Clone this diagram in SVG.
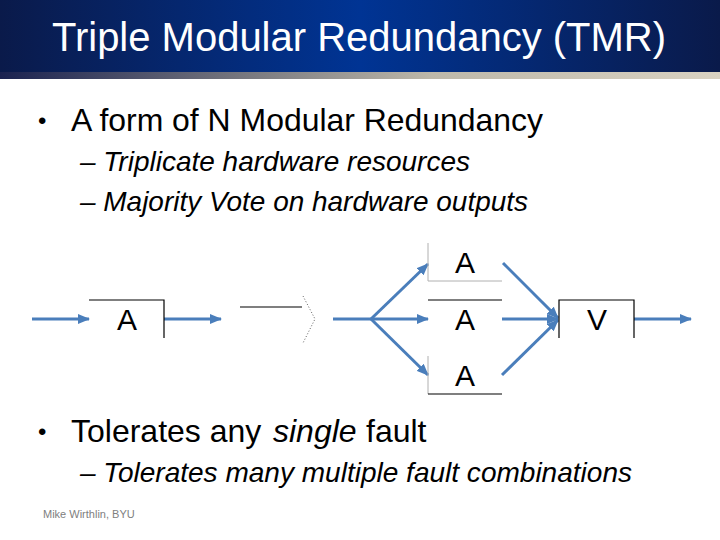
<svg xmlns="http://www.w3.org/2000/svg" width="720" height="540" viewBox="0 0 720 540">
<defs>
<linearGradient id="hdr" x1="0" y1="0" x2="1" y2="0">
<stop offset="0" stop-color="#0a1a4a"/>
<stop offset="0.5" stop-color="#003494"/>
<stop offset="1" stop-color="#0a1a4a"/>
</linearGradient>
<linearGradient id="strip" x1="0" y1="0" x2="1" y2="0">
<stop offset="0" stop-color="#1a2250"/>
<stop offset="0.35" stop-color="#7a7a80"/>
<stop offset="0.6" stop-color="#bdb8aa"/>
<stop offset="1" stop-color="#d9d2c2"/>
</linearGradient>
<marker id="ah" markerWidth="12" markerHeight="10" refX="11" refY="5" orient="auto" markerUnits="userSpaceOnUse" viewBox="0 0 12 10">
<path d="M0,0 L12,5 L0,10 Z" fill="#4a7ebb"/>
</marker>
</defs>
<style>
.title{font-family:"Liberation Sans",Arial,sans-serif;font-size:40px;fill:#ffffff}
.b1{font-family:"Liberation Sans",Arial,sans-serif;font-size:32px;fill:#000}
.bul{font-family:"Liberation Sans",Arial,sans-serif;font-size:24px;fill:#000}
.b2{font-family:"Liberation Sans",Arial,sans-serif;font-size:28px;font-style:italic;fill:#000}
.lbl{font-family:"Liberation Sans",Arial,sans-serif;font-size:30px;fill:#000;text-anchor:middle}
.foot{font-family:"Liberation Sans",Arial,sans-serif;font-size:11px;fill:#808080}
.edge{stroke:#000;stroke-width:1.2;fill:none}
.faint{stroke:#b0b0b0;stroke-width:1;fill:none}
.conn{stroke:#4a7ebb;stroke-width:3;fill:none}
</style>
<rect x="0" y="0" width="720" height="540" fill="#ffffff"/>
<rect x="0" y="0" width="720" height="72" fill="url(#hdr)"/>
<rect x="0" y="72" width="720" height="7" fill="url(#strip)"/>
<text class="title" x="52" y="51" textLength="614" lengthAdjust="spacingAndGlyphs">Triple Modular Redundancy (TMR)</text>

<text class="bul" x="38" y="129">•</text>
<text class="b1" x="71" y="131" textLength="472" lengthAdjust="spacingAndGlyphs">A form of N Modular Redundancy</text>
<text class="b2" x="80" y="171" textLength="390" lengthAdjust="spacingAndGlyphs">– Triplicate hardware resources</text>
<text class="b2" x="80" y="211" textLength="448" lengthAdjust="spacingAndGlyphs">– Majority Vote on hardware outputs</text>
<text class="bul" x="38" y="440">•</text>
<text class="b1" x="71" y="442">Tolerates any</text>
<text class="b1" x="273" y="442" font-style="italic">single</text>
<text class="b1" x="366" y="442">fault</text>
<text class="b2" x="80" y="482" textLength="552" lengthAdjust="spacingAndGlyphs">– Tolerates many multiple fault combinations</text>
<text class="foot" x="43" y="518">Mike Wirthlin, BYU</text>

<g id="connectors">
<line class="conn" x1="32" y1="319" x2="89" y2="319" marker-end="url(#ah)"/>
<line class="conn" x1="164" y1="319" x2="221" y2="319" marker-end="url(#ah)"/>
<line class="conn" x1="333" y1="319" x2="371" y2="319"/>
<line class="conn" x1="371" y1="319" x2="428" y2="264" marker-end="url(#ah)"/>
<line class="conn" x1="371" y1="319" x2="428" y2="319" marker-end="url(#ah)"/>
<line class="conn" x1="371" y1="319" x2="428" y2="375" marker-end="url(#ah)"/>
<line class="conn" x1="503" y1="263" x2="558" y2="318" marker-end="url(#ah)"/>
<line class="conn" x1="502" y1="319" x2="558" y2="319" marker-end="url(#ah)"/>
<line class="conn" x1="502" y1="375" x2="558" y2="320" marker-end="url(#ah)"/>
<line class="conn" x1="634" y1="319" x2="691" y2="319" marker-end="url(#ah)"/>
</g>

<g id="nodeA1">
<path class="edge" d="M89,300 H164 V338"/>
<text class="lbl" x="127" y="330">A</text>
</g>
<g id="splitter">
<line class="edge" x1="240" y1="307" x2="302" y2="307"/>
<path d="M303,296 L315,319 L303,343" fill="none" stroke="#606060" stroke-width="1" stroke-dasharray="1,2"/>
</g>
<g id="nodeA2">
<path class="faint" d="M428,243 V281 H502"/>
<text class="lbl" x="465" y="273">A</text>
</g>
<g id="nodeA3">
<line class="edge" x1="428" y1="300" x2="502" y2="300"/>
<text class="lbl" x="465" y="330">A</text>
</g>
<g id="nodeA4">
<line class="faint" x1="428" y1="356" x2="428" y2="394"/>
<line class="edge" x1="428" y1="394" x2="502" y2="394"/>
<text class="lbl" x="465" y="386">A</text>
</g>
<g id="voter">
<path class="edge" d="M559,338 V300 H634 V338"/>
<text class="lbl" x="597" y="330">V</text>
</g>
</svg>
